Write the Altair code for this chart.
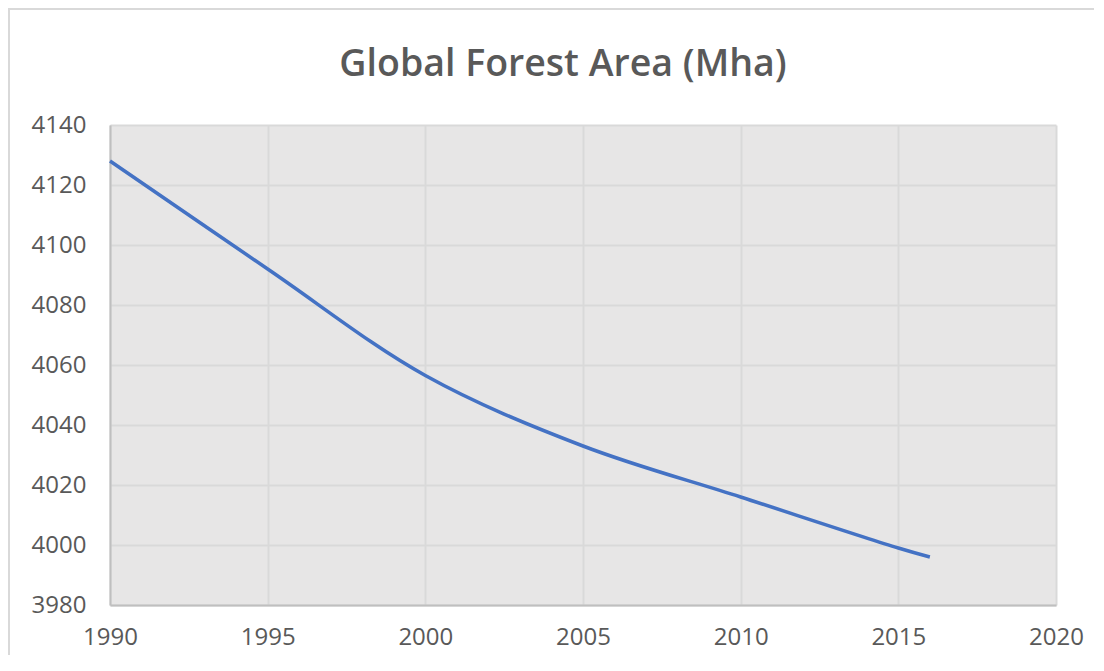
import altair as alt
import pandas as pd

years = [1990, 1995, 2000, 2005, 2010, 2015, 2016]
forest_area = [4128, 4092, 4056.5, 4033, 4016, 3999, 3996]

x_ticks = [1990, 1995, 2000, 2005, 2010, 2015, 2020]
y_ticks = [3980, 4000, 4020, 4040, 4060, 4080, 4100, 4120, 4140]

title_text = ["Global Forest Area (Mha)"]

df = pd.DataFrame({"year": years, "area": forest_area})

label_color = "#595959"
font = "Open Sans"

border = alt.Chart(pd.DataFrame({"k": [0]})).mark_rect(
    fill="transparent", stroke="#d9d9d9", strokeWidth=2
).encode(
    x=alt.value(-101), x2=alt.value(1200),
    y=alt.value(-116), y2=alt.value(800),
)

title = alt.Chart(pd.DataFrame({"t": title_text})).mark_text(
    font=font, fontSize=37.5, fontWeight=600, color=label_color,
    align="center", baseline="middle"
).encode(
    text="t:N", x=alt.value(453), y=alt.value(-60),
)

line = alt.Chart(df).mark_line(
    color="#4472C4", strokeWidth=3.5, interpolate="catmull-rom"
).encode(
    x=alt.X("year:Q",
            scale=alt.Scale(domain=[1990, 2020], nice=False, zero=False),
            axis=alt.Axis(values=x_ticks, format="d", title=None,
                          labelFontSize=24, labelFont=font, labelColor=label_color,
                          labelPadding=20, ticks=False, labelFlush=False,
                          domainColor="#bfbfbf", domainWidth=2,
                          gridColor="#d9d9d9", gridWidth=2)),
    y=alt.Y("area:Q",
            scale=alt.Scale(domain=[3980, 4140], nice=False, zero=False),
            axis=alt.Axis(values=y_ticks, format="d", title=None,
                          labelFontSize=24, labelFont=font, labelColor=label_color,
                          labelPadding=24, ticks=False, labelFlush=False,
                          domainColor="#bfbfbf", domainWidth=2,
                          gridColor="#d9d9d9", gridWidth=2)),
)

chart = alt.layer(line, border, title).properties(
    width=946, height=480,
    autosize=alt.AutoSizeParams(type="none"),
    padding={"left": 102, "top": 117, "right": 38, "bottom": 50},
).configure(
    background="white",
    view=alt.ViewConfig(fill="#e7e6e6", stroke=None),
)

chart.save("out.html", embed_options={"renderer": "svg", "actions": False})
